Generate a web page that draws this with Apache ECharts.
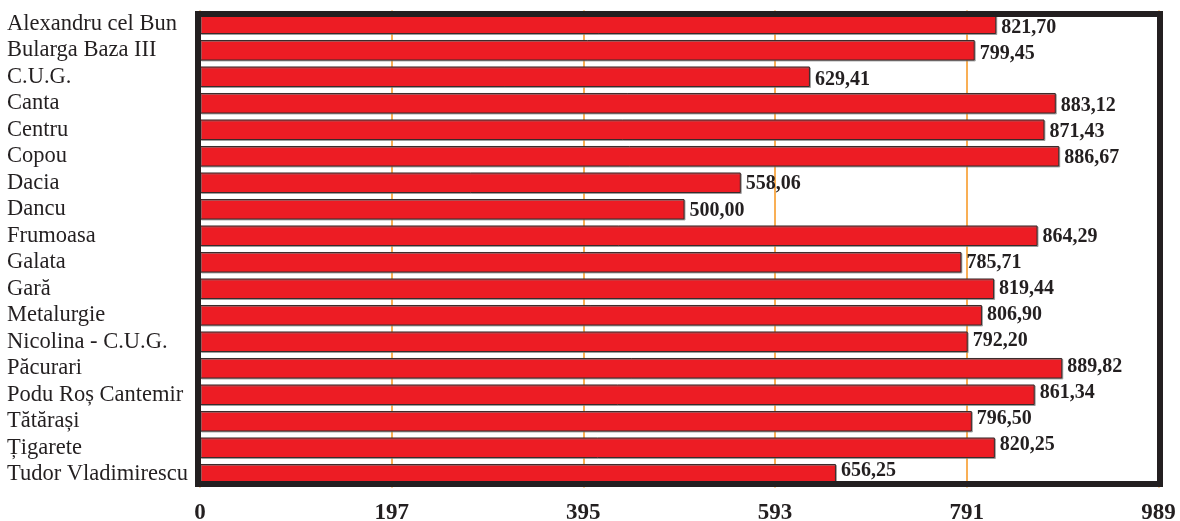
<!DOCTYPE html>
<html>
<head>
<meta charset="utf-8">
<script src="https://cdn.jsdelivr.net/npm/echarts@6/dist/echarts.min.js"></script>
<style>
html,body{margin:0;padding:0;background:#fff;}
#chart{width:1180px;height:521px;}
</style>
</head>
<body>
<div id="chart"></div>
<script>
const categories = ['Alexandru cel Bun','Bularga Baza III','C.U.G.','Canta','Centru','Copou','Dacia','Dancu','Frumoasa','Galata','Gară','Metalurgie','Nicolina - C.U.G.','Păcurari','Podu Roș Cantemir','Tătărași','Țigarete','Tudor Vladimirescu'];
const values = [821.70,799.45,629.41,883.12,871.43,886.67,558.06,500.00,864.29,785.71,819.44,806.90,792.20,889.82,861.34,796.50,820.25,656.25];
const xTickLabels = ['0','197','395','593','791','989'];
const xMax = 989;
const xInterval = 197.8;

const chart = echarts.init(document.getElementById('chart'));
const serif = '"Liberation Serif", "DejaVu Serif", serif';
chart.setOption({
  animation: false,
  backgroundColor: '#fff',
  grid: { left: 200, right: 21.6, top: 10.5, bottom: 33.5, containLabel: false, outerBoundsMode: 'none' },
  xAxis: {
    type: 'value', min: 0, max: xMax, interval: xInterval,
    axisLine: { show: false }, axisTick: { show: false },
    splitLine: { show: true, lineStyle: { color: '#f7941d', width: 1.5 } },
    axisLabel: {
      margin: 14, fontFamily: serif, fontSize: 23, fontWeight: 'bold', color: '#231f20',
      formatter: (v, i) => xTickLabels[i] !== undefined ? xTickLabels[i] : ''
    }
  },
  yAxis: {
    type: 'category', data: categories, inverse: true,
    axisLine: { show: false }, axisTick: { show: false },
    axisLabel: { interval: 0, align: 'left', margin: 193, fontFamily: serif, fontSize: 22.5, color: '#231f20' }
  },
  series: [{
    type: 'bar', data: values, barCategoryGap: '22.6%', z: 2,
    itemStyle: { color: '#ed1c24', borderColor: '#3a2a2a', borderWidth: 1,
      shadowColor: 'rgba(120,120,120,0.6)', shadowOffsetX: 1, shadowOffsetY: 1, shadowBlur: 0 },
    label: { show: false }
  }, {
    type: 'bar', data: values, barCategoryGap: '22.6%', barGap: '-100%', z: 110, silent: true,
    itemStyle: { color: 'rgba(0,0,0,0)' },
    label: {
      show: true, position: 'right', distance: 5,
      fontFamily: serif, fontSize: 20, fontWeight: 'bold', color: '#231f20',
      formatter: p => p.value.toFixed(2).replace('.', ',')
    },
    labelLayout: p => ({ dy: 4 - 7 * p.dataIndex / (values.length - 1) })
  }],
  graphic: [{
    type: 'rect', z: 100, silent: true,
    shape: { x: 198, y: 14, width: 962, height: 470 },
    style: { fill: 'none', stroke: '#231f20', lineWidth: 6 }
  }]
});
</script>
</body>
</html>
